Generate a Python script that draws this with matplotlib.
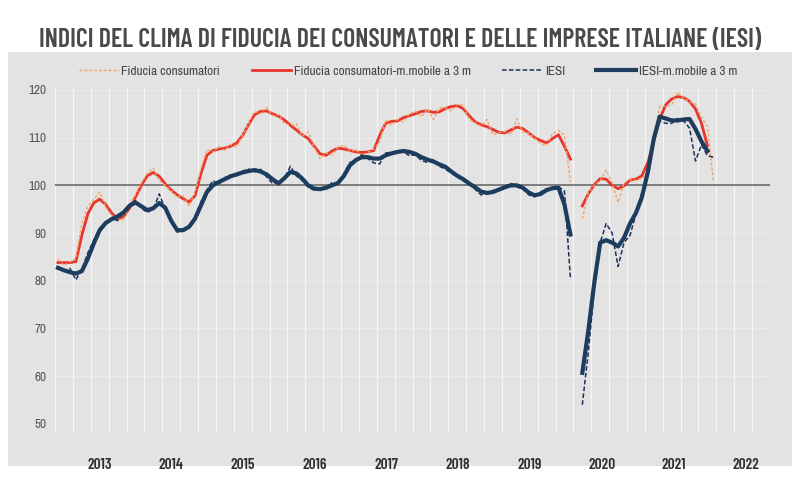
import numpy as np
import matplotlib
matplotlib.use('Agg')
import matplotlib.pyplot as plt
from matplotlib.patches import Rectangle

# monthly data, Jan 2013 .. Mar 2022 (index 0..110); Apr 2020 not collected
nan = np.nan

fiducia_cons = [
    84.5, 83.2, 84.0, 84.6, 92.0, 95.5, 97.0, 98.6, 95.5, 93.6, 93.2, 92.7,   # 2013
    95.8, 98.0, 100.5, 102.5, 103.6, 101.0, 100.0, 98.8, 97.6, 97.8, 95.6, 98.5,  # 2014
    103.5, 107.5, 106.9, 108.2, 107.3, 108.6, 108.0, 110.7, 113.0, 115.5, 115.0, 116.4,  # 2015
    114.6, 114.8, 113.0, 112.6, 112.9, 110.3, 111.2, 108.0, 105.6, 106.8, 106.4, 108.0,  # 2016
    108.4, 107.1, 107.5, 106.2, 106.9, 107.6, 109.1, 113.7, 112.6, 113.8, 113.3, 115.0,  # 2017
    115.6, 114.4, 116.0, 113.8, 116.2, 116.3, 115.6, 117.0, 116.8, 113.9, 113.1, 112.4,  # 2018
    113.8, 110.6, 111.0, 111.3, 110.6, 113.9, 111.2, 111.0, 109.9, 108.8, 108.3, 110.9,  # 2019
    111.5, 110.5, 100.8, nan, 93.0, 98.5, 100.0, 101.0, 103.2, 100.5, 96.4, 100.5,  # 2020
    101.2, 101.0, 101.5, 102.3, 110.6, 116.5, 116.6, 116.8, 119.5, 118.4, 117.5, 117.0,  # 2021
    114.2, 112.4, 100.8,  # 2022
]

fiducia_cons_mm3 = [
    83.8, 83.8, 83.8, 84.0, 89.5, 94.0, 96.3, 97.1, 96.0, 94.2, 93.0, 93.4,
    95.2, 97.5, 100.0, 102.0, 102.7, 101.9, 100.3, 99.0, 98.0, 97.2, 96.5, 97.8,
    102.5, 106.3, 107.3, 107.6, 107.8, 108.2, 108.9, 110.5, 112.8, 114.8, 115.5, 115.6,
    115.0, 114.5, 113.7, 112.6, 111.6, 110.6, 109.8, 108.2, 106.6, 106.3, 107.2, 107.8,
    107.6, 107.3, 107.0, 106.9, 107.0, 107.3, 110.5, 113.0, 113.4, 113.5, 114.2, 114.6,
    115.0, 115.5, 115.6, 115.3, 115.4, 116.1, 116.5, 116.7, 116.1, 114.6, 113.3, 112.7,
    112.3, 111.7, 111.1, 111.0, 111.6, 112.2, 111.9, 111.0, 110.0, 109.4, 108.9, 109.8,
    110.6, 108.2, 105.5, nan, 95.7, 98.2, 100.1, 101.4, 101.3, 100.0, 99.3, 99.9,
    101.1, 101.3, 102.0, 104.8, 109.3, 113.9, 116.9, 118.1, 118.6, 118.4, 117.6, 116.0,
    113.0, 108.3, nan,
]

iesi = [
    83.0, 82.0, 82.6, 80.2, 82.4, 85.8, 88.5, 91.0, 92.3, 93.1, 92.6, 94.6,
    96.0, 96.8, 95.2, 94.3, 95.0, 98.2, 95.0, 92.3, 90.2, 90.4, 91.6, 93.4,
    96.6, 99.0, 101.0, 100.2, 101.6, 102.2, 102.0, 103.0, 103.4, 102.8, 103.4, 101.8,
    100.4, 100.6, 101.4, 104.0, 102.0, 101.0, 99.6, 99.0, 99.4, 99.3, 100.6, 100.3,
    102.5, 104.8, 105.2, 106.4, 105.6, 104.7, 104.5, 106.8, 106.9, 107.2, 107.0, 106.2,
    106.4, 105.2, 104.8, 105.4, 104.0, 103.4, 102.6, 101.8, 100.9, 100.5, 99.2, 98.0,
    98.3, 98.9, 99.2, 99.8, 100.4, 99.7, 99.3, 98.0, 97.6, 98.6, 99.3, 99.2,
    99.7, 98.8, 80.6, nan, 54.0, 65.0, 78.0, 88.0, 92.0, 90.0, 83.0, 88.0,
    89.5, 94.0, 98.5, 102.0, 110.0, 113.5, 113.0, 113.0, 114.0, 113.5, 112.0, 105.1,
    108.5, 106.2, 105.9,
]

iesi_mm3 = [
    82.7, 82.2, 81.8, 81.5, 82.0, 84.6, 87.8, 90.6, 92.1, 92.9, 93.5, 94.3,
    95.7, 96.4, 95.6, 94.8, 95.2, 96.3, 95.3, 92.6, 90.6, 90.6, 91.3, 93.0,
    95.8, 98.6, 100.0, 100.7, 101.3, 101.9, 102.3, 102.7, 103.0, 103.2, 102.9, 102.3,
    101.3, 100.4, 101.5, 102.8, 102.5, 101.4, 100.0, 99.3, 99.2, 99.5, 100.0, 100.5,
    102.0, 104.2, 105.3, 105.9, 105.9, 105.6, 105.6, 106.3, 106.7, 107.0, 107.2, 107.0,
    106.6, 105.9, 105.4, 105.0, 104.4, 103.9, 102.9, 102.0, 101.3, 100.4, 99.6, 98.7,
    98.4, 98.6, 99.1, 99.6, 100.0, 100.0, 99.5, 98.5, 97.9, 98.2, 99.0, 99.4,
    99.5, 96.0, 89.7, nan, 60.7, 69.5, 79.5, 88.0, 88.5, 88.0, 87.2, 89.0,
    92.0, 94.2, 97.5, 102.8, 109.8, 114.4, 114.0, 113.6, 113.6, 113.8, 113.9, 111.8,
    109.2, 107.2, nan,
]

years = ['2013', '2014', '2015', '2016', '2017', '2018', '2019', '2020', '2021', '2022']
y_ticks = [50, 60, 70, 80, 90, 100, 110, 120]

labels = ['Fiducia consumatori', 'Fiducia consumatori-m.mobile a 3 m',
          'IESI', 'IESI-m.mobile a 3 m']

NARROW = ['Liberation Sans Narrow', 'Archivo Narrow', 'Roboto Condensed', 'DejaVu Sans']
NARROW_BOLD = ['Liberation Sans Narrow', 'Barlow Condensed', 'Archivo Narrow', 'DejaVu Sans']
bg = '#e3e3e3'

fig = plt.figure(figsize=(8, 4.8), dpi=100, facecolor='white')
fig.patches.append(Rectangle((8/800, 14/480), 784/800, 414/480, transform=fig.transFigure,
                             facecolor=bg, edgecolor='none', zorder=-5))

ax = fig.add_axes([55/800, 48/480, 715/800, 344/480])
ax.set_facecolor(bg)

m = np.arange(len(fiducia_cons))
ax.plot(m, fiducia_cons_mm3, color='#e8352d', lw=2.0, label=labels[1], zorder=3)
ax.plot(m, fiducia_cons, color='#f3a35f', lw=1.0, ls=(0, (2, 1.5)), label=labels[0], zorder=4)
ax.plot(m, iesi, color='#1f2f5c', lw=1.1, ls=(0, (3, 1.5)), label=labels[2], zorder=4)
ax.plot(m, iesi_mm3, color='#1c3d5e', lw=3.0, label=labels[3], zorder=5)

ax.axhline(100, color='#7d7d7d', lw=1.4, zorder=2)

# quarterly vertical grid, faint horizontal grid
for q in np.arange(-0.5, 120, 3):
    ax.axvline(q, color='white', lw=0.9, alpha=0.7, zorder=1)
for yv in y_ticks[1:]:
    if yv != 100:
        ax.axhline(yv, color='white', lw=0.8, alpha=0.3, zorder=1)

ax.set_xlim(-0.5, 119.5)
ax.set_ylim(48.3, 120.4)
ax.set_yticks(y_ticks)
ax.set_yticklabels([str(v) for v in y_ticks], fontsize=9.5, color='#555555', family=NARROW)
ax.set_xticks([6.93 + 12.05 * i for i in range(len(years))])
ax.set_xticklabels(years, fontsize=11, fontweight='semibold', color='#2e2e2e', family=NARROW_BOLD)
ax.tick_params(axis='both', length=0)
ax.tick_params(axis='x', pad=19)
ax.tick_params(axis='y', pad=6)
for s in ax.spines.values():
    s.set_visible(False)

h, l = ax.get_legend_handles_labels()
order = [1, 0, 2, 3]
leg = fig.legend([h[i] for i in order], [l[i] for i in order], loc='center', ncol=4,
                 bbox_to_anchor=(0.51, 1 - 71/480), frameon=False, handlelength=3.0,
                 columnspacing=2.4, handletextpad=0.2,
                 prop={'family': NARROW, 'size': 9.5})
for t in leg.get_texts():
    t.set_color('#444444')

title = fig.text(0.5, 1 - 40/480,
                 'INDICI DEL CLIMA DI FIDUCIA DEI CONSUMATORI E DELLE IMPRESE ITALIANE (IESI)',
                 ha='center', va='center', fontsize=19, fontweight='semibold', color='#4a4a4a',
                 family=NARROW_BOLD)

# keep title and legend inside ~720px if a narrow font is missing
fig.canvas.draw()
r = fig.canvas.get_renderer()
fs = title.get_fontsize()
w = title.get_window_extent(r).width
if abs(w - 720) > 10:
    title.set_fontsize(fs * 720 / w)
w = leg.get_window_extent(r).width
if w > 680:
    for t in leg.get_texts():
        t.set_fontsize(9.5 * 680 / w)

fig.savefig('out.png', dpi=100, facecolor='white')
